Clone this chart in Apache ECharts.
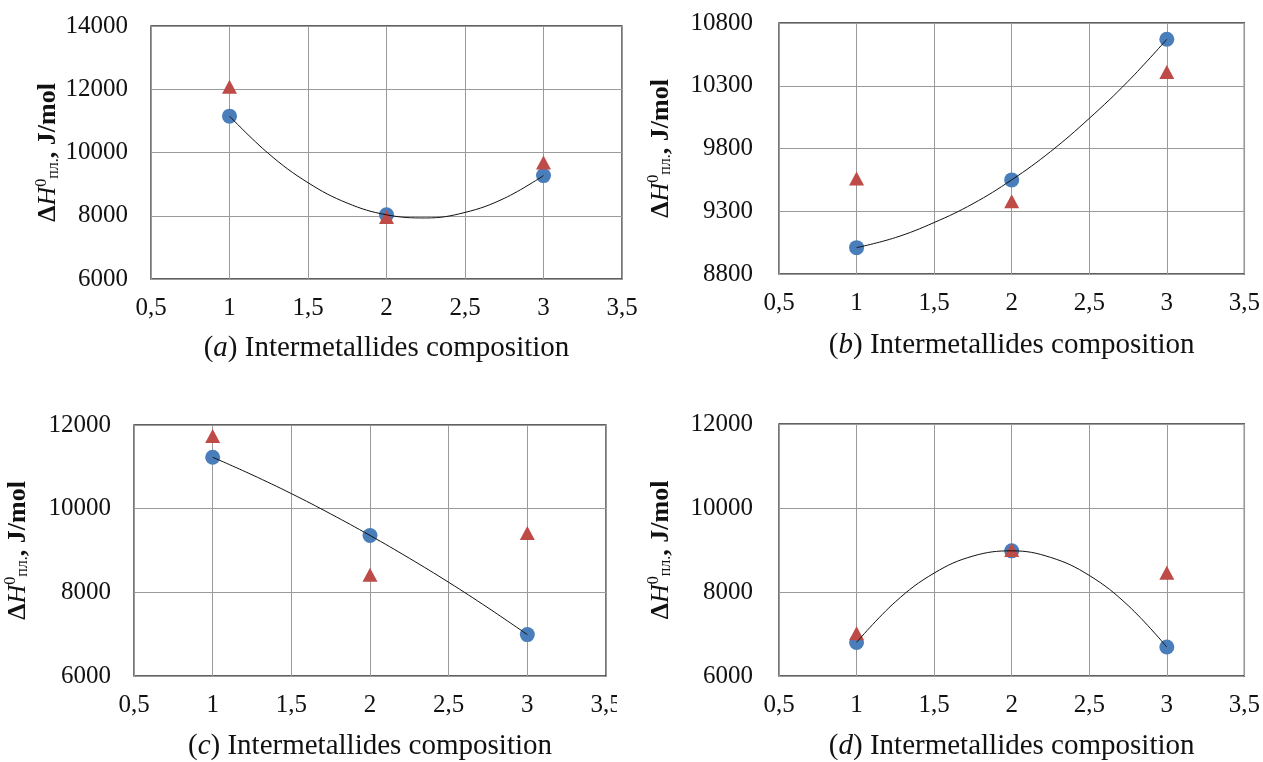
<!DOCTYPE html>
<html>
<head>
<meta charset="utf-8">
<script src="https://cdn.jsdelivr.net/npm/echarts@6/dist/echarts.min.js"></script>
<style>
html,body{margin:0;padding:0;background:#fff;}
#chart{width:1263px;height:762px;}
</style>
</head>
<body>
<div id="chart"></div>
<script>
// ---- data ----
const composition = [1, 2, 3];
const xTicks = [0.5, 1, 1.5, 2, 2.5, 3, 3.5];
const xTickLabels = ['0,5', '1', '1,5', '2', '2,5', '3', '3,5'];

const yTicksA = [6000, 8000, 10000, 12000, 14000];
const yTicksB = [8800, 9300, 9800, 10300, 10800];
const yTicksC = [6000, 8000, 10000, 12000];
const yTicksD = [6000, 8000, 10000, 12000];

const circlesA = [11150, 8030, 9270];
const trianglesA = [12080, 7960, 9680];
const circlesB = [9010, 9550, 10670];
const trianglesB = [9560, 9380, 10410];
const circlesC = [11230, 9360, 6990];
const trianglesC = [11740, 8420, 9420];
const circlesD = [6800, 8980, 6690];
const trianglesD = [7020, 9000, 8460];

// trend curves
const trendX = [1, 1.25, 1.5, 1.75, 2, 2.25, 2.5, 2.75, 3];
const trendA = [11150, 9960, 9045, 8400, 8030, 7930, 8105, 8550, 9270];
const trendB = [9010, 9090, 9210, 9360, 9550, 9775, 10040, 10335, 10670];
const trendC = [11230, 10810, 10360, 9875, 9360, 8815, 8240, 7630, 6990];
const trendD = [6800, 7765, 8450, 8855, 8980, 8825, 8395, 7680, 6690];

const panelLetters = ['a', 'b', 'c', 'd'];
const xTitleText = ' Intermetallides composition';

// ---- layout / style ----
const FONT = '"Liberation Serif", "Times New Roman", serif';
const BLUE = '#4A7EBB';
const RED = '#BE4B48';

const panels = [
  {grid: {left: 151, top: 26, width: 471, height: 253}, yTicks: yTicksA, c: circlesA, t: trianglesA, tr: trendA, yGap: 89, yMargin: 23, xGap: 54},
  {grid: {left: 779, top: 23, width: 469, height: 251}, yTicks: yTicksB, c: circlesB, t: trianglesB, tr: trendB, yGap: 105, yMargin: 26, xGap: 56},
  {grid: {left: 134, top: 425, width: 472, height: 251}, yTicks: yTicksC, c: circlesC, t: trianglesC, tr: trendC, yGap: 103, yMargin: 23, xGap: 55},
  {grid: {left: 779, top: 424, width: 470, height: 252}, yTicks: yTicksD, c: circlesD, t: trianglesD, tr: trendD, yGap: 105, yMargin: 26, xGap: 55}
];

const grids = [], xAxes = [], yAxes = [], series = [];

panels.forEach((p, i) => {
  grids.push(Object.assign({show: true, borderColor: '#2e2e2e', borderWidth: 1.3, backgroundColor: '#fff'}, p.grid));
  xAxes.push({
    type: 'value', gridIndex: i,
    min: xTicks[0], max: xTicks[xTicks.length - 1], interval: xTicks[1] - xTicks[0],
    axisLine: {show: false}, axisTick: {show: false},
    splitLine: {show: true, lineStyle: {color: '#9a9a9a', width: 1}},
    axisLabel: {
      margin: 17, color: '#111', fontFamily: FONT, fontSize: 25,
      formatter: v => { const k = xTicks.findIndex(t => Math.abs(t - v) < 1e-6); return k >= 0 ? xTickLabels[k] : ''; }
    },
    name: '{p|(}{i|' + panelLetters[i] + '}{p|)' + xTitleText + '}',
    nameLocation: 'middle', nameGap: p.xGap,
    nameTextStyle: {
      rich: {
        p: {fontFamily: FONT, fontSize: 29, color: '#111', lineHeight: 30},
        i: {fontFamily: FONT, fontSize: 29, fontStyle: 'italic', color: '#111', lineHeight: 30}
      }
    }
  });
  const yt = p.yTicks;
  yAxes.push({
    type: 'value', gridIndex: i,
    min: yt[0], max: yt[yt.length - 1], interval: yt[1] - yt[0],
    axisLine: {show: false}, axisTick: {show: false},
    splitLine: {show: true, lineStyle: {color: '#9a9a9a', width: 1}},
    axisLabel: {
      margin: p.yMargin, color: '#111', fontFamily: FONT, fontSize: 25,
      formatter: v => { const k = yt.findIndex(t => Math.abs(t - v) < 1e-6); return k >= 0 ? String(yt[k]) : ''; }
    },
    name: '{b|Δ}{h|H}{sup|0}{sub|пл.}{b|, J/mol}',
    nameLocation: 'middle', nameRotate: 90, nameGap: p.yGap,
    nameTextStyle: {
      rich: {
        b: {fontFamily: FONT, fontSize: 26, fontWeight: 'bold', color: '#111', lineHeight: 30, verticalAlign: 'bottom'},
        h: {fontFamily: FONT, fontSize: 26, fontStyle: 'italic', color: '#111', lineHeight: 30, verticalAlign: 'bottom'},
        sup: {fontFamily: FONT, fontSize: 16, color: '#111', lineHeight: 30, verticalAlign: 'top', padding: [2, 0, 0, 0]},
        sub: {fontFamily: FONT, fontSize: 16, color: '#111', lineHeight: 30, verticalAlign: 'bottom'}
      }
    }
  });
  series.push({
    type: 'scatter', xAxisIndex: i, yAxisIndex: i, z: 2,
    symbol: 'circle', symbolSize: 15,
    itemStyle: {color: BLUE, opacity: 1},
    data: composition.map((x, k) => [x, p.c[k]])
  });
  series.push({
    type: 'scatter', xAxisIndex: i, yAxisIndex: i, z: 3,
    symbol: 'triangle', symbolSize: [15, 14],
    itemStyle: {color: RED, opacity: 1},
    data: composition.map((x, k) => [x, p.t[k]])
  });
  series.push({
    type: 'line', xAxisIndex: i, yAxisIndex: i, z: 4,
    smooth: 0.4, showSymbol: false, symbol: 'none',
    lineStyle: {color: '#111', width: 1},
    data: trendX.map((x, k) => [x, p.tr[k]])
  });
});

const chart = echarts.init(document.getElementById('chart'), null, {renderer: 'canvas'});
chart.setOption({
  backgroundColor: '#ffffff',
  animation: false,
  grid: grids, xAxis: xAxes, yAxis: yAxes, series: series,
  graphic: [{type: 'rect', shape: {x: 617, y: 688, width: 30, height: 45}, style: {fill: '#fff'}, z: 100}]
});
</script>
</body>
</html>
